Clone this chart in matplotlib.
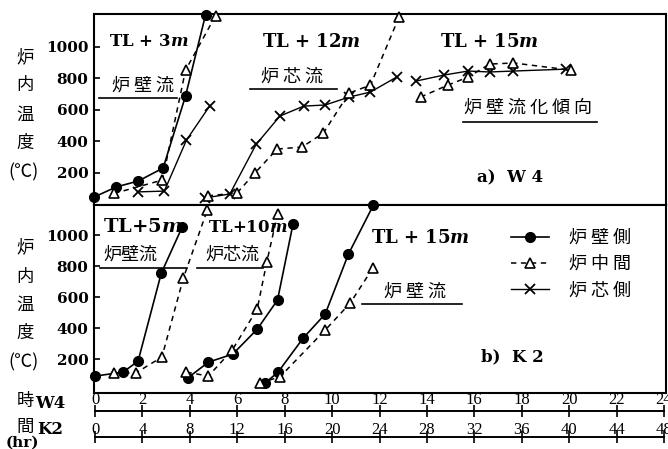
import matplotlib.pyplot as plt
from matplotlib.lines import Line2D

plt.rcParams['font.family'] = ['Noto Sans CJK JP', 'DejaVu Sans']
plt.rcParams['mathtext.fontset'] = 'custom'
plt.rcParams['mathtext.it'] = 'DejaVu Serif:italic:bold'
plt.rcParams['mathtext.rm'] = 'DejaVu Serif:bold'

### a) W4 furnace, time in W4 hours, temperature in deg C
w4_3m_wall_t = [0, 0.93, 1.86, 2.9, 3.84, 4.68]
w4_3m_wall_v = [47, 111, 149, 231, 687, 1200]
w4_3m_mid_t = [0.84, 2.87, 3.84, 5.1]
w4_3m_mid_v = [70, 155, 850, 1195]
w4_3m_core_t = [1.86, 2.95, 3.88, 4.85]
w4_3m_core_v = [80, 85, 408, 623]

w4_12m_mid_t = [4.77, 6.0, 6.75, 7.68, 8.73, 9.62, 10.7, 11.6, 12.8]
w4_12m_mid_v = [55, 73, 199, 351, 364, 452, 705, 756, 1187]
w4_12m_core_t = [4.64, 5.7, 6.8, 7.8, 8.8, 9.7, 10.7, 11.6, 12.7]
w4_12m_core_v = [41, 67, 380, 560, 623, 630, 680, 712, 807]

w4_15m_mid_t = [13.7, 14.85, 15.7, 16.6, 17.6, 20.0]
w4_15m_mid_v = [680, 756, 807, 889, 896, 851]
w4_15m_core_t = [13.5, 14.7, 15.7, 16.6, 17.6, 19.8]
w4_15m_core_v = [781, 820, 845, 839, 845, 857]

### b) K2 furnace, time in K2 hours
k2_5m_wall_t = [0.1, 2.45, 3.7, 5.65, 7.4]
k2_5m_wall_v = [90, 116, 187, 755, 1052]
k2_5m_mid_t = [1.7, 3.5, 5.7, 7.5, 9.5]
k2_5m_mid_v = [110, 110, 213, 723, 1160]

k2_10m_wall_t = [7.85, 9.6, 11.65, 13.7, 15.4, 16.7]
k2_10m_wall_v = [77, 180, 232, 393, 581, 1071]
k2_10m_mid_t = [7.76, 9.6, 11.6, 13.7, 14.5, 15.4]
k2_10m_mid_v = [116, 90, 258, 523, 826, 1135]

k2_15m_wall_t = [14.35, 15.45, 17.55, 19.4, 21.35, 23.45]
k2_15m_wall_v = [45, 116, 335, 490, 877, 1194]
k2_15m_mid_t = [13.9, 15.6, 19.4, 21.5, 23.4]
k2_15m_mid_v = [45, 85, 387, 561, 787]

temp_ticks = [200, 400, 600, 800, 1000]
w4_ticks = list(range(0, 25, 2))
k2_ticks = list(range(0, 49, 4))
legend_labels = ['炉 壁 側', '炉 中 間', '炉 芯 側']

### figure in pixel units
W, H = 668, 449
fig = plt.figure(figsize=(W / 100, H / 100), dpi=100)


def fx(x):
    return x / W


def fy(y):
    return 1 - y / H


L, R = 94, 666
ax1 = fig.add_axes([fx(L), fy(205), fx(R) - fx(L), fy(14) - fy(205)])
ax2 = fig.add_axes([fx(L), fy(393), fx(R) - fx(L), fy(205) - fy(393)])

wall = dict(color='black', ls='-', lw=1.2, marker='o', ms=7, mfc='black', clip_on=False, zorder=5)
mid = dict(color='black', ls=(0, (3.5, 3)), lw=1.1, marker='^', ms=7, mfc='white', mew=1.2, clip_on=False, zorder=5)
core = dict(color='black', ls='-', lw=1.0, marker='x', ms=6.5, mew=1.3, clip_on=False, zorder=5)

ax1.plot(w4_3m_wall_t, w4_3m_wall_v, **wall)
ax1.plot(w4_3m_mid_t, w4_3m_mid_v, **mid)
ax1.plot(w4_3m_core_t, w4_3m_core_v, **core)
ax1.plot(w4_12m_core_t, w4_12m_core_v, **core)
ax1.plot(w4_12m_mid_t, w4_12m_mid_v, **mid)
ax1.plot(w4_15m_core_t, w4_15m_core_v, **core)
ax1.plot(w4_15m_mid_t, w4_15m_mid_v, **mid)

h_wall, = ax2.plot(k2_5m_wall_t, k2_5m_wall_v, **wall)
h_mid, = ax2.plot(k2_5m_mid_t, k2_5m_mid_v, **mid)
ax2.plot(k2_10m_wall_t, k2_10m_wall_v, **wall)
ax2.plot(k2_10m_mid_t, k2_10m_mid_v, **mid)
ax2.plot(k2_15m_wall_t, k2_15m_wall_v, **wall)
ax2.plot(k2_15m_mid_t, k2_15m_mid_v, **mid)
h_core = Line2D([], [], **core)

ax1.set_xlim(0, 24)
ax1.set_ylim(-3, 1206)
ax2.set_xlim(0, 48)
ax2.set_ylim(-19, 1194)

for ax in (ax1, ax2):
    ax.set_xticks([])
    ax.set_yticks(temp_ticks)
    ax.set_yticklabels([str(t) for t in temp_ticks], family='DejaVu Serif', weight='bold', fontsize=11)
    ax.tick_params(axis='y', direction='in', length=4, width=1.2, pad=4)
    for s in ax.spines.values():
        s.set_linewidth(1.5)

### time axes below the panels
for ypix, top, ticks, pad in [(411, 24, w4_ticks, -2), (437, 48, k2_ticks, -5)]:
    axt = fig.add_axes([fx(95), fy(ypix), fx(664) - fx(95), 1e-4])
    axt.patch.set_visible(False)
    for name, s in axt.spines.items():
        s.set_visible(name == 'top')
    axt.spines['top'].set_linewidth(1.4)
    axt.set_xlim(0, top)
    axt.set_yticks([])
    axt.set_xticks(ticks)
    axt.set_xticklabels([str(t) for t in ticks], family='Liberation Serif', fontsize=12)
    axt.tick_params(axis='x', top=True, labeltop=True, bottom=False, labelbottom=False,
                    direction='inout', length=8, width=1.2, pad=pad)

### legend
ax2.legend([h_wall, h_mid, h_core], legend_labels, loc='upper left',
           bbox_to_anchor=(fx(511), fy(229)), bbox_transform=fig.transFigure,
           frameon=False, fontsize=13, handlelength=2.1, handletextpad=1.1,
           labelspacing=0.45, borderpad=0, borderaxespad=0)


### texts
def put(x, y, s, size=13, serif=False, **kw):
    if serif:
        kw.update(family='DejaVu Serif', weight='bold')
    fig.text(fx(x), fy(y), s, ha='center', va='center', fontsize=size, **kw)


def underline(x0, x1, y):
    fig.add_artist(Line2D([fx(x0), fx(x1)], [fy(y), fy(y)], color='black', lw=1.2))


for yy, ch in zip([57, 85, 115, 143], '炉内温度'):
    put(25, yy, ch, size=12.5)
put(24, 172, '(℃)', size=13)
for yy, ch in zip([247, 277, 305, 333], '炉内温度'):
    put(25, yy, ch, size=12.5)
put(24, 362, '(℃)', size=13)
put(25, 401, '時', size=12.5)
put(25, 427, '間', size=12.5)
put(22, 443, '(hr)', size=11, serif=True)
put(50, 403, 'W4', size=12, serif=True)
put(50, 429, 'K2', size=12, serif=True)

put(149, 42, 'TL + 3$m$', size=12, serif=True)
put(143, 86, '炉 壁 流')
underline(99, 177, 98)
put(311, 42, 'TL + 12$m$', serif=True)
put(292, 77, '炉 芯 流')
underline(250, 337, 89)
put(489, 42, 'TL + 15$m$', serif=True)
put(528, 108, '炉 壁 流 化 傾 向')
underline(463, 597, 122)
put(510, 178, 'a)  W 4', size=12, serif=True)

put(143, 227, 'TL+5$m$', size=14, serif=True)
put(130, 255, '炉壁流')
underline(100, 187, 268)
put(248, 227, 'TL+10$m$', size=12, serif=True)
put(232, 255, '炉芯流')
underline(197, 263, 268)
put(420, 238, 'TL + 15$m$', serif=True)
put(415, 292, '炉 壁 流')
underline(362, 462, 304)
put(512, 357, 'b)  K 2', size=12, serif=True)

fig.savefig('out.png', dpi=100)
